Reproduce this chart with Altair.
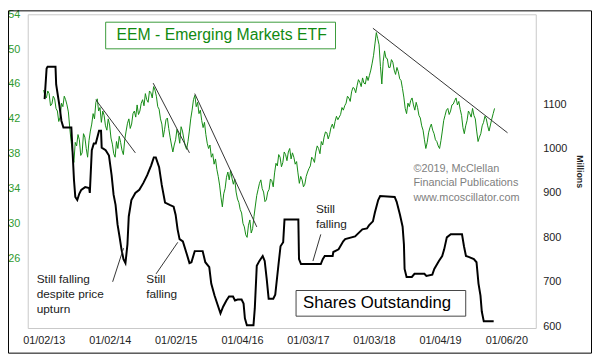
import altair as alt
import pandas as pd

FONT = "Liberation Sans"

# ---- EEM price (left axis), weekly readings starting Jan 2013 ----
price_start_year = 2013.0
price_step_years = 1.0 / 48.0
price_2013 = [45.3, 44.6, 44.4, 45.2, 44.9, 43.5, 43.7, 44.6, 44.3, 43.2, 42.9, 41.7,
              42.2, 43.8, 43.4, 44.6, 44.2, 43.6, 42.8, 41.0, 39.4, 38.2, 37.0, 39.3,
              38.9, 40.2, 39.6, 37.8, 38.1, 40.3, 39.9, 38.6, 37.6, 39.5, 40.6, 41.4,
              42.6, 42.0, 43.9, 44.3, 42.9, 43.3, 41.6, 42.9, 42.4, 41.2, 40.7, 42.0]
price_2014 = [41.3, 39.8, 39.1, 38.0, 37.6, 39.4, 38.6, 40.0, 39.3, 38.4, 37.9, 39.6,
              40.6, 41.5, 42.0, 40.9, 41.4, 42.6, 42.9, 42.2, 43.6, 42.5, 42.9, 43.8,
              44.2, 43.5, 44.9, 44.2, 43.9, 45.2, 45.0, 44.4, 45.7, 45.3, 44.6, 43.4,
              43.1, 42.0, 41.4, 39.9, 40.8, 41.9, 42.1, 40.9, 39.9, 39.0, 38.2, 39.0]
price_2015 = [39.6, 40.8, 40.3, 39.2, 41.1, 40.6, 39.7, 38.9, 38.5, 39.4, 40.6, 42.0,
              43.0, 44.2, 44.7, 43.4, 43.9, 42.6, 43.0, 41.8, 41.0, 41.6, 40.2, 39.2,
              38.6, 39.0, 37.6, 38.0, 36.8, 37.4, 36.2, 35.4, 34.4, 33.0, 31.9, 33.4,
              34.0, 35.3, 35.9, 35.0, 36.1, 35.2, 34.5, 35.1, 33.6, 32.8, 32.4, 31.6]
price_2016 = [31.2, 30.0, 29.6, 28.7, 28.4, 29.8, 30.4, 28.9, 29.4, 30.8, 32.0, 33.2,
              33.9, 34.6, 35.0, 34.0, 33.6, 32.5, 32.7, 33.6, 33.9, 35.1, 34.9, 34.2,
              35.8, 36.9, 36.6, 37.9, 37.6, 36.5, 37.0, 38.2, 37.9, 37.2, 38.2, 38.6,
              37.4, 38.1, 37.6, 36.8, 37.1, 35.8, 34.6, 35.4, 35.0, 34.2, 34.5, 35.4]
price_2017 = [35.9, 36.3, 36.6, 37.6, 37.4, 37.0, 38.2, 38.9, 38.6, 38.0, 39.4, 39.0,
              39.9, 40.5, 40.4, 39.7, 40.2, 41.0, 41.4, 40.9, 41.7, 42.3, 41.9, 42.2,
              42.5, 43.3, 43.0, 43.5, 43.8, 44.6, 44.4, 44.0, 45.1, 45.6, 45.5, 45.0,
              45.8, 46.5, 46.2, 45.7, 46.7, 46.1, 46.0, 46.9, 46.4, 47.0, 47.6, 48.4]
price_2018 = [49.3, 50.6, 51.9, 51.2, 50.5, 48.0, 46.0, 48.6, 49.8, 49.0, 48.9, 47.9,
              47.9, 48.8, 48.5, 47.6, 47.1, 47.9, 47.4, 46.6, 46.4, 45.5, 44.5, 43.2,
              42.6, 43.8, 43.4, 44.1, 44.4, 43.6, 43.0, 43.9, 43.3, 42.4, 42.1, 41.2,
              40.7, 39.6, 38.6, 39.3, 40.4, 41.0, 41.4, 40.7, 40.3, 39.6, 39.4, 38.9]
price_2019 = [38.6, 39.5, 40.6, 41.8, 42.4, 43.0, 43.2, 42.5, 42.9, 43.6, 43.7, 44.1,
              44.4, 43.6, 44.0, 43.1, 42.4, 41.0, 40.3, 41.2, 41.8, 42.9, 42.6, 42.2,
              43.2, 42.4, 42.0, 40.6, 39.4, 39.9, 40.3, 41.2, 41.6, 42.3, 42.0, 41.2,
              40.6, 41.3, 42.0, 42.6, 43.2]
price_values = price_2013 + price_2014 + price_2015 + price_2016 + price_2017 + price_2018 + price_2019

# ---- Shares outstanding (right axis, millions) ----
shares_years = [
    2013.015, 2013.045, 2013.06, 2013.18, 2013.19, 2013.24, 2013.27, 2013.30,
    2013.42, 2013.43, 2013.46, 2013.48, 2013.51, 2013.54, 2013.57, 2013.63,
    2013.69, 2013.70, 2013.73, 2013.76, 2013.79, 2013.84, 2013.87, 2013.88,
    2013.94, 2013.99, 2014.03, 2014.06, 2014.09, 2014.12, 2014.15, 2014.18,
    2014.21, 2014.24, 2014.27, 2014.29, 2014.33, 2014.39, 2014.45, 2014.51,
    2014.57, 2014.63, 2014.67, 2014.70, 2014.75, 2014.79, 2014.84, 2014.91,
    2014.97, 2015.00, 2015.03, 2015.06, 2015.11, 2015.17, 2015.21, 2015.24,
    2015.29, 2015.41, 2015.45, 2015.51, 2015.54, 2015.59, 2015.63, 2015.68,
    2015.72, 2015.77, 2015.81, 2015.87, 2015.90, 2015.94, 2016.00, 2016.03,
    2016.05, 2016.08, 2016.18, 2016.20, 2016.23, 2016.27, 2016.32, 2016.35,
    2016.38, 2016.41, 2016.45, 2016.48, 2016.51, 2016.56, 2016.59, 2016.63,
    2016.65, 2016.86, 2016.87, 2016.90, 2017.08, 2017.20, 2017.23, 2017.26,
    2017.38, 2017.39, 2017.47, 2017.54, 2017.57, 2017.72, 2017.83, 2017.90,
    2017.93, 2017.99, 2018.02, 2018.07, 2018.10, 2018.32, 2018.35, 2018.40,
    2018.44, 2018.46, 2018.47, 2018.50, 2018.58, 2018.62, 2018.77, 2018.80,
    2018.89, 2018.92, 2018.99, 2019.04, 2019.07, 2019.11, 2019.17, 2019.34,
    2019.37, 2019.40, 2019.44, 2019.52, 2019.56, 2019.59, 2019.62, 2019.64,
    2019.67, 2019.82,
]
shares_values = [
    1111, 1180, 1184, 1184, 1144, 1096, 1062, 1047,
    1047, 1018, 929, 891, 884, 898, 907, 913,
    911, 900, 996, 1011, 1011, 1040, 1040, 1002,
    996, 984, 940, 896, 873, 829, 802, 773,
    751, 742, 784, 847, 884, 900, 907, 922,
    940, 962, 980, 980, 958, 918, 878, 873,
    869, 851, 818, 796, 791, 762, 742, 744,
    769, 769, 744, 733, 696, 669, 651, 629,
    644, 658, 667, 667, 658, 660, 660, 651,
    618, 602, 602, 640, 736, 747, 758, 747,
    707, 662, 662, 662, 671, 740, 780, 789,
    840, 840, 751, 740, 740, 740, 751, 758,
    758, 767, 773, 791, 796, 802, 818, 820,
    827, 836, 856, 884, 893, 891, 880, 851,
    824, 784, 729, 711, 711, 718, 718, 713,
    716, 729, 747, 758, 773, 800, 807, 807,
    780, 758, 756, 751, 744, 696, 669, 633,
    611, 611,
]

# ---- Downtrend lines on price (start year, start price, end year, end price) ----
trend_x0 = [2013.79, 2014.66, 2015.29, 2017.99]
trend_y0 = [44.2, 46.1, 44.9, 52.4]
trend_x1 = [2014.39, 2015.21, 2016.23, 2020.03]
trend_y1 = [38.1, 38.1, 29.6, 40.4]

# ---- Annotations on shares axis ----
note_texts = ["Still falling\ndespite price\nupturn", "Still\nfalling", "Still\nfalling"]
note_x = [2012.895, 2014.555, 2017.126]
note_y = [696.7, 696.7, 854.4]
pointer_x0 = [2014.046, 2014.704, 2017.200]
pointer_y0 = [700.0, 717.8, 806.7]
pointer_x1 = [2014.211, 2015.033, 2017.081]
pointer_y1 = [775.6, 788.9, 746.7]

price_ticks = [26, 30, 34, 38, 42, 46, 50, 54]
shares_ticks = [600, 700, 800, 900, 1000, 1100]
date_ticks = [(2013, 1, 2), (2014, 1, 2), (2015, 1, 2), (2016, 1, 4),
              (2017, 1, 3), (2018, 1, 3), (2019, 1, 4), (2020, 1, 6)]


def to_date(y):
    return pd.Timestamp("2013-01-01") + pd.to_timedelta((y - 2013.0) * 365.25, unit="D")


price_df = pd.DataFrame({
    "date": [to_date(price_start_year + i * price_step_years) for i in range(len(price_values))],
    "price": price_values,
})
shares_df = pd.DataFrame({"date": [to_date(y) for y in shares_years], "shares": shares_values})

trend_rows = []
for i in range(len(trend_x0)):
    trend_rows.append({"date": to_date(trend_x0[i]), "price": trend_y0[i], "seg": i})
    trend_rows.append({"date": to_date(trend_x1[i]), "price": trend_y1[i], "seg": i})
trend_df = pd.DataFrame(trend_rows)

ptr_rows = []
for i in range(len(pointer_x0)):
    ptr_rows.append({"date": to_date(pointer_x0[i]), "shares": pointer_y0[i], "seg": i})
    ptr_rows.append({"date": to_date(pointer_x1[i]), "shares": pointer_y1[i], "seg": i})
ptr_df = pd.DataFrame(ptr_rows)

note_df = pd.DataFrame({"date": [to_date(v) for v in note_x], "shares": note_y, "text": note_texts})

X = alt.X(
    "date:T",
    scale=alt.Scale(domain=[alt.DateTime(year=2012, month=10, date=5),
                            alt.DateTime(year=2020, month=6, date=17)]),
    axis=alt.Axis(values=[alt.DateTime(year=a, month=b, date=c) for a, b, c in date_ticks],
                  format="%m/%d/%y", title=None, grid=False, ticks=False, domain=False,
                  labelPadding=7, labelFontSize=11, labelColor="#222222", labelFont=FONT,
                  labelFlush=False, labelOverlap=False),
)
Y_PRICE = alt.Y(
    "price:Q",
    scale=alt.Scale(domain=[18, 54], nice=False, zero=False),
    axis=alt.Axis(orient="left", values=price_ticks, title=None, grid=False, ticks=False,
                  domain=False, labelPadding=8, labelFontSize=11, labelColor="#2f9a2f",
                  labelFont=FONT, format="d"),
)
Y_SHARES = alt.Y(
    "shares:Q",
    scale=alt.Scale(domain=[596, 1302], nice=False, zero=False),
    axis=alt.Axis(orient="right", values=shares_ticks, title="Millions", grid=False, ticks=False,
                  domain=False, labelPadding=7, labelFontSize=11, labelColor="#222222",
                  labelFont=FONT, format="d", titleFont=FONT, titleFontSize=9,
                  titleFontWeight="bold", titleColor="#222222", titlePadding=8, titleAngle=90),
)

one = alt.Data(values=[{"k": 1}])

green = alt.Chart(price_df).mark_line(color="#138a13", strokeWidth=1).encode(x=X, y=Y_PRICE)
trend = alt.Chart(trend_df).mark_line(color="#333333", strokeWidth=1).encode(
    x=X, y=Y_PRICE, detail="seg:N")
title_box = alt.Chart(one).mark_rect(fill="white", stroke="#3a9a3a", strokeWidth=1).encode(
    x=alt.value(79), x2=alt.value(312), y=alt.value(8), y2=alt.value(35))
title_txt = alt.Chart(one).mark_text(
    text="EEM - Emerging Markets ETF", font=FONT, fontSize=16, color="#118a11",
    align="left", baseline="middle").encode(x=alt.value(90), y=alt.value(21.5))

left = alt.layer(green, trend, title_box, title_txt)

black = alt.Chart(shares_df).mark_line(color="black", strokeWidth=2).encode(x=X, y=Y_SHARES)
pointers = alt.Chart(ptr_df).mark_line(color="#333333", strokeWidth=1).encode(
    x=X, y=Y_SHARES, detail="seg:N")
notes = alt.Chart(note_df).mark_text(
    font=FONT, fontSize=12, color="#222222", align="left", baseline="alphabetic",
    lineBreak="\n", lineHeight=15).encode(x=X, y=Y_SHARES, text="text:N")
shares_box = alt.Chart(one).mark_rect(fill="white", stroke="#444444", strokeWidth=1).encode(
    x=alt.value(272), x2=alt.value(444), y=alt.value(280), y2=alt.value(306))
shares_txt = alt.Chart(one).mark_text(
    text="Shares Outstanding", font=FONT, fontSize=17, color="black",
    align="left", baseline="middle").encode(x=alt.value(279), y=alt.value(293))
copyright = alt.Chart(one).mark_text(
    text="\u00a92019, McClellan\nFinancial Publications\nwww.mcoscillator.com",
    font=FONT, fontSize=11, color="#808080", align="left", baseline="alphabetic",
    lineBreak="\n", lineHeight=14.5).encode(x=alt.value(391), y=alt.value(160))
frame = alt.Chart(one).mark_rect(fill=None, stroke="black", strokeWidth=1).encode(
    x=alt.value(-19.5), x2=alt.value(571.5), y=alt.value(-3.5), y2=alt.value(343.5))

right = alt.layer(black, pointers, notes, shares_box, shares_txt, copyright, frame)

chart = alt.layer(left, right).resolve_scale(y="independent").properties(
    width=515, height=318,
    padding={"left": 20, "top": 4, "right": 57, "bottom": 26},
    autosize=alt.AutoSizeParams(type="none"),
    background="white",
).configure_view(stroke="#c8c8c8", strokeWidth=1)

chart.save("out.html", embed_options={"renderer": "svg", "actions": False})
